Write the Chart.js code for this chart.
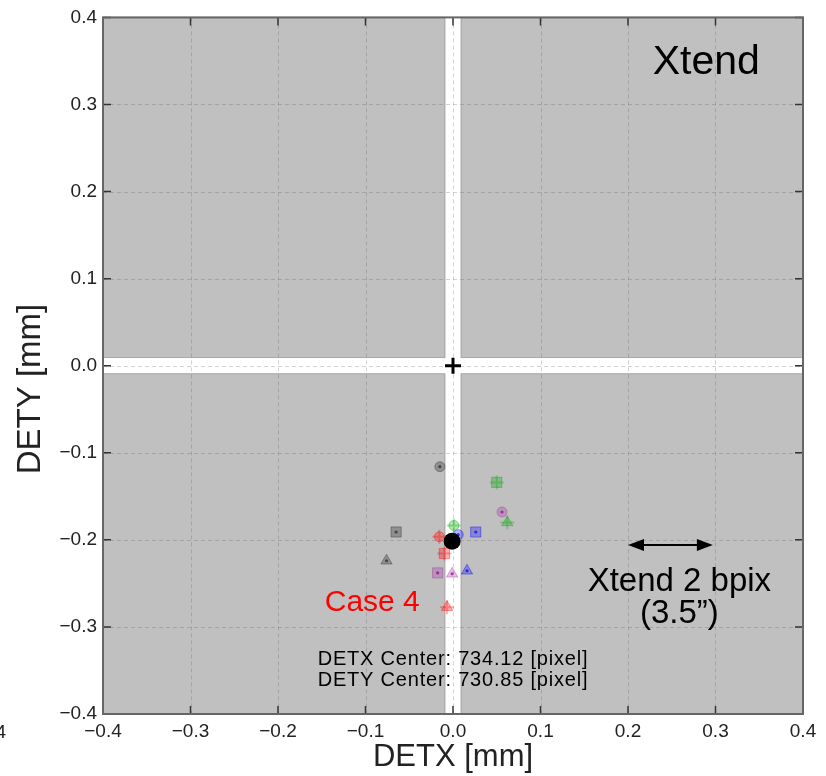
<!DOCTYPE html>
<html>
<head>
<meta charset="utf-8">
<script src="https://cdn.jsdelivr.net/npm/chart.js@4.4.1/dist/chart.umd.min.js"></script>
<style>
  html, body { margin: 0; padding: 0; background: #fff; }
  #wrap { width: 826px; height: 776px; }
</style>
</head>
<body>
<div id="wrap"><canvas id="c" width="826" height="776"></canvas></div>
<script>
// 軸の目盛り
const TICKS = [-0.4, -0.3, -0.2, -0.1, 0.0, 0.1, 0.2, 0.3, 0.4];
const GAP = 0.0088; // 中央の白い隙間（半幅, mm）

// 各系列: [circle, square, triangle]
const SHAPES = ["circle", "rect", "triangle"];
const GRAY_X = [-0.015, -0.065, -0.076];
const GRAY_Y = [-0.116, -0.191, -0.224];
const GREEN_X = [0.001, 0.050, 0.062];
const GREEN_Y = [-0.1835, -0.134, -0.180];
const PURPLE_X = [0.056, -0.0175, -0.001];
const PURPLE_Y = [-0.168, -0.238, -0.239];
const BLUE_X = [0.006, 0.026, 0.016];
const BLUE_Y = [-0.194, -0.191, -0.2355];
const RED_X = [-0.0156, -0.0099, -0.0068];
const RED_Y = [-0.1964, -0.2157, -0.2773];

const MEAN_X = [-0.001];
const MEAN_Y = [-0.2017];
const ORIGIN_X = [0];
const ORIGIN_Y = [0];

// 2 bpix の矢印
const ARROW_X = [0.2, 0.297];
const ARROW_Y = -0.206;

const FONT = '"Liberation Sans", Arial, sans-serif';

const pts = (xs, ys) => xs.map((x, i) => ({ x, y: ys[i] }));

function markerSet(xs, ys, rgb, alpha) {
  return {
    data: pts(xs, ys),
    pointStyle: SHAPES,
    pointRadius: [5, 7.2, 6.5],
    backgroundColor: `rgba(${rgb},${alpha})`,
    borderColor: `rgba(${rgb},${alpha + 0.1})`,
    borderWidth: 1,
    showLine: false
  };
}
function dotSet(xs, ys, rgb) {
  return {
    data: pts(xs, ys), pointStyle: "circle", pointRadius: 1.6,
    backgroundColor: `rgba(${rgb},0.7)`, borderWidth: 0, showLine: false
  };
}
function plusSet(xs, ys, rgb) {
  return {
    data: pts(xs, ys), pointStyle: "cross", pointRadius: 7,
    borderColor: `rgba(${rgb},0.3)`, borderWidth: 2, showLine: false
  };
}

const bgPlugin = {
  id: "bg",
  beforeDraw(chart) {
    const { ctx, chartArea: a, scales: { x, y } } = chart;
    ctx.save();
    ctx.fillStyle = "#fff";
    ctx.fillRect(a.left, a.top, a.right - a.left, a.bottom - a.top);
    const x0 = x.getPixelForValue(-GAP), x1 = x.getPixelForValue(GAP);
    const y0 = y.getPixelForValue(GAP), y1 = y.getPixelForValue(-GAP);
    const rects = [
      [a.left, a.top, x0, y0], [x1, a.top, a.right, y0],
      [a.left, y1, x0, a.bottom], [x1, y1, a.right, a.bottom]
    ];
    ctx.fillStyle = "#c0c0c0";
    ctx.strokeStyle = "#a9a9a9";
    ctx.lineWidth = 1;
    rects.forEach(([l, t, r, b]) => {
      ctx.fillRect(l, t, r - l, b - t);
      ctx.strokeRect(l + 0.5, t + 0.5, r - l - 1, b - t - 1);
    });
    ctx.restore();
  },
  beforeDatasetsDraw(chart) {
    // 破線のグリッド
    const { ctx, chartArea: a, scales: { x, y } } = chart;
    ctx.save();
    ctx.strokeStyle = "rgba(80,80,80,0.25)";
    ctx.lineWidth = 1;
    ctx.setLineDash([4, 3]);
    TICKS.forEach(v => {
      const px = Math.round(x.getPixelForValue(v)) + 0.5, py = Math.round(y.getPixelForValue(v)) + 0.5;
      ctx.beginPath();
      ctx.moveTo(px, a.top); ctx.lineTo(px, a.bottom);
      ctx.moveTo(a.left, py); ctx.lineTo(a.right, py);
      ctx.stroke();
    });
    ctx.restore();
  },
  afterDatasetsDraw(chart) {
    const { ctx, scales: { x, y } } = chart;
    ctx.save();
    // 矢印
    const ax0 = x.getPixelForValue(ARROW_X[0]), ax1 = x.getPixelForValue(ARROW_X[1]);
    const ay = y.getPixelForValue(ARROW_Y);
    ctx.strokeStyle = "#000"; ctx.fillStyle = "#000"; ctx.lineWidth = 2;
    ctx.beginPath(); ctx.moveTo(ax0 + 12, ay); ctx.lineTo(ax1 - 12, ay); ctx.stroke();
    [[ax0, 1], [ax1, -1]].forEach(([px, d]) => {
      ctx.beginPath(); ctx.moveTo(px, ay); ctx.lineTo(px + d * 16, ay - 6); ctx.lineTo(px + d * 16, ay + 6); ctx.closePath(); ctx.fill();
    });
    // テキスト
    const txt = (s, vx, vy, font, color, spacing) => {
      ctx.font = font; ctx.fillStyle = color; ctx.textAlign = "center"; ctx.textBaseline = "middle";
      ctx.letterSpacing = spacing || "0px";
      ctx.fillText(s, x.getPixelForValue(vx), y.getPixelForValue(vy));
    };
    txt("Xtend", 0.2895, 0.3476, `41px ${FONT}`, "#000");
    txt("Xtend 2 bpix", 0.2587, -0.2484, `33px ${FONT}`, "#000");
    txt("(3.5\u201d)", 0.2587, -0.2849, `33px ${FONT}`, "#000");
    txt("Case 4", -0.0923, -0.2724, `30px ${FONT}`, "#ff0000");
    txt("DETX Center: 734.12 [pixel]", 0.0, -0.3373, `20px ${FONT}`, "#000", "0.8px");
    txt("DETY Center: 730.85 [pixel]", 0.0, -0.3613, `20px ${FONT}`, "#000", "0.8px");
    ctx.letterSpacing = "0px";
    ctx.restore();
  },
  afterDraw(chart) {
    const { ctx, chartArea: a, scales: { x, y } } = chart;
    ctx.save();
    // 内向きの目盛り
    ctx.strokeStyle = "#333"; ctx.lineWidth = 1.5;
    TICKS.forEach(v => {
      const px = x.getPixelForValue(v), py = y.getPixelForValue(v);
      ctx.beginPath();
      ctx.moveTo(px, a.bottom); ctx.lineTo(px, a.bottom - 8);
      ctx.moveTo(px, a.top); ctx.lineTo(px, a.top + 8);
      ctx.moveTo(a.left, py); ctx.lineTo(a.left + 8, py);
      ctx.moveTo(a.right, py); ctx.lineTo(a.right - 8, py);
      ctx.stroke();
    });
    // 枠
    ctx.strokeStyle = "#666"; ctx.lineWidth = 2;
    ctx.strokeRect(a.left, a.top, a.right - a.left, a.bottom - a.top);
    // y 軸タイトル（少し下寄り）
    ctx.font = `33px ${FONT}`;
    ctx.fillStyle = "#222"; ctx.textAlign = "center"; ctx.textBaseline = "middle";
    ctx.translate(31, 389); ctx.rotate(-Math.PI / 2);
    ctx.fillText("DETY [mm]", 0, 0);
    ctx.setTransform(1, 0, 0, 1, 0, 0);
    // 隣のパネルの目盛りの切れ端
    ctx.font = `19px ${FONT}`;
    ctx.textAlign = "right";
    ctx.fillText("\u22120.4", 6, 733);
    ctx.restore();
  }
};

const fmt = v => {
  const s = Number(v).toFixed(1);
  return s.startsWith("-") ? "\u2212" + s.slice(1) : s;
};

const axis = (title, fit) => ({
  type: "linear", min: -0.4, max: 0.4,
  afterBuildTicks: s => { s.ticks = TICKS.map(v => ({ value: v })); },
  afterFit: fit,
  ticks: {
    callback: fmt, color: "#222", padding: 6,
    font: { family: FONT, size: 19 }
  },
  grid: { display: false, drawTicks: false },
  border: { display: false },
  title: {
    display: !!title, text: title, color: "#222",
    font: { family: FONT, size: 31 }
  }
});

const xAxis = axis("DETX [mm]", s => { s.height = 62; });
xAxis.title.padding = { top: 0, bottom: 0 };
const yAxis = axis("", s => { s.width = 103; });

new Chart(document.getElementById("c").getContext("2d"), {
  type: "scatter",
  data: {
    datasets: [
      { data: pts(ORIGIN_X, ORIGIN_Y), pointStyle: "cross", pointRadius: 8, borderColor: "#000", borderWidth: 3 },
      { data: pts(MEAN_X, MEAN_Y), pointStyle: "circle", pointRadius: 8.5, backgroundColor: "#000", borderWidth: 0 },
      plusSet(GREEN_X, GREEN_Y, "0,170,0"),
      plusSet(RED_X, RED_Y, "255,0,0"),
      dotSet(GRAY_X, GRAY_Y, "40,40,40"),
      dotSet(PURPLE_X, PURPLE_Y, "150,0,150"),
      dotSet(BLUE_X, BLUE_Y, "0,0,230"),
      markerSet(GRAY_X, GRAY_Y, "70,70,70", 0.4),
      markerSet(GREEN_X, GREEN_Y, "0,170,0", 0.3),
      markerSet(PURPLE_X, PURPLE_Y, "160,40,160", 0.28),
      markerSet(BLUE_X, BLUE_Y, "0,0,255", 0.3),
      markerSet(RED_X, RED_Y, "255,0,0", 0.3)
    ]
  },
  options: {
    responsive: false, animation: false, events: [],
    layout: { padding: { top: 13, right: 23, left: 0, bottom: 0 } },
    plugins: { legend: { display: false }, tooltip: { enabled: false } },
    scales: { x: xAxis, y: yAxis }
  },
  plugins: [bgPlugin]
});
</script>
</body>
</html>
